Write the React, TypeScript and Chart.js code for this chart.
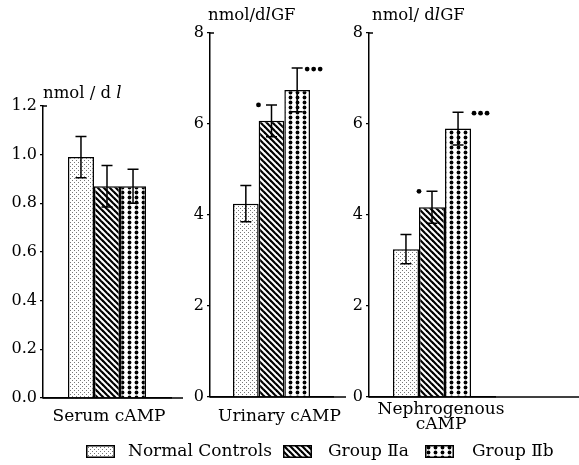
import React, { useEffect, useRef } from 'react';
import { Chart, registerables } from 'chart.js';

Chart.register(...registerables);

// ---------- data ----------
const groups = ['Normal Controls', 'Group Ⅱa', 'Group Ⅱb'];

const serumCategory = 'Serum cAMP';
const serumMeans = [0.99, 0.87, 0.87];
const serumErrors = [0.085, 0.085, 0.07];
const serumSig = [0, 0, 0];
const serumTicks = [0, 0.2, 0.4, 0.6, 0.8, 1.0, 1.2];
const serumUnit = ['nmol / d ', 'l', ''];

const urinaryCategory = 'Urinary cAMP';
const urinaryMeans = [4.25, 6.07, 6.75];
const urinaryErrors = [0.4, 0.35, 0.48];
const urinarySig = [0, 1, 3];
const urinaryTicks = [0, 2, 4, 6, 8];
const urinaryUnit = ['nmol/d', 'l', 'GF'];

const nephroCategory = ['Nephrogenous', 'cAMP'];
const nephroMeans = [3.25, 4.17, 5.9];
const nephroErrors = [0.32, 0.35, 0.36];
const nephroSig = [0, 1, 3];
const nephroTicks = [0, 2, 4, 6, 8];
const nephroUnit = ['nmol/ d', 'l', 'GF'];

// ---------- layout / style ----------
const FONT = '"DejaVu Serif", "Liberation Serif", serif';

const panels = [
  {
    category: serumCategory, means: serumMeans, errors: serumErrors, sig: serumSig,
    ticks: serumTicks, unit: serumUnit, decimals: 1,
    padding: { left: 7, right: 408, top: 106, bottom: 22 }, yWidth: 36,
    catPct: 0.61, baselineTo: 183, labelOffset: 2, labelPadding: 8, labelLineHeight: 1.2,
    sigOffset: 10, unitDx: 0, unitDy: -8,
  },
  {
    category: urinaryCategory, means: urinaryMeans, errors: urinaryErrors, sig: urinarySig,
    ticks: urinaryTicks, unit: urinaryUnit, decimals: 0,
    padding: { left: 180, right: 246, top: 33, bottom: 23 }, yWidth: 30,
    catPct: 0.626, baselineTo: 346, labelOffset: 8, labelPadding: 9, labelLineHeight: 1.2,
    sigOffset: 10, unitDx: -2, unitDy: -13,
  },
  {
    category: nephroCategory, means: nephroMeans, errors: nephroErrors, sig: nephroSig,
    ticks: nephroTicks, unit: nephroUnit, decimals: 0,
    padding: { left: 339, right: 84, top: 33, bottom: 23 }, yWidth: 30,
    catPct: 0.62, baselineTo: 579, labelOffset: 9, labelPadding: 5, labelLineHeight: 0.9,
    sigOffset: 16, unitDx: 3, unitDy: -13,
  },
];

type Kind = 'fine' | 'hatch' | 'dots';
const kinds: Kind[] = ['fine', 'hatch', 'dots'];

function makePattern(kind: Kind): CanvasPattern | string {
  const c = document.createElement('canvas');
  let w = 4, h = 4;
  if (kind === 'hatch') { w = 6; h = 6; }
  if (kind === 'dots') { w = 7; h = 5; }
  c.width = w; c.height = h;
  const ctx = c.getContext('2d');
  if (!ctx) return '#fff';
  ctx.fillStyle = '#fff';
  ctx.fillRect(0, 0, w, h);
  if (kind === 'fine') {
    ctx.fillStyle = '#777';
    ctx.fillRect(0, 0, 1, 1);
    ctx.fillRect(2, 2, 1, 1);
  } else if (kind === 'hatch') {
    ctx.strokeStyle = '#000';
    ctx.lineWidth = 2.2;
    for (const o of [-w, 0, w]) {
      ctx.beginPath();
      ctx.moveTo(o - 1, -1);
      ctx.lineTo(o + w + 1, h + 1);
      ctx.stroke();
    }
  } else {
    ctx.fillStyle = '#000';
    ctx.beginPath();
    ctx.arc(w / 2, h / 2, 1.9, 0, Math.PI * 2);
    ctx.fill();
  }
  return ctx.createPattern(c, 'repeat') || '#fff';
}

function decorPlugin(p: any) {
  return {
    id: 'decor',
    afterDraw(chart: any) {
      const ctx = chart.ctx as CanvasRenderingContext2D;
      const ca = chart.chartArea;
      const ys = chart.scales.y;
      ctx.save();
      ctx.strokeStyle = '#000';
      ctx.lineWidth = 1.5;
      // baseline (redrawn over bars, extended)
      ctx.beginPath();
      ctx.moveTo(ca.left, ca.bottom);
      ctx.lineTo(p.baselineTo, ca.bottom);
      ctx.stroke();
      // inward top tick
      ctx.beginPath();
      ctx.moveTo(ca.left - 0.75, ca.top);
      ctx.lineTo(ca.left + 4, ca.top);
      ctx.stroke();
      // error bars + significance marks
      chart.data.datasets.forEach((_ds: any, i: number) => {
        const el = chart.getDatasetMeta(i).data[0];
        if (!el) return;
        const x = el.x;
        const m = p.means[i];
        const e = p.errors[i];
        const yT = ys.getPixelForValue(m + e);
        const yB = ys.getPixelForValue(m - e);
        ctx.lineWidth = 1.5;
        ctx.beginPath();
        ctx.moveTo(x, yT); ctx.lineTo(x, yB);
        ctx.moveTo(x - 5.5, yT); ctx.lineTo(x + 5.5, yT);
        ctx.moveTo(x - 5.5, yB); ctx.lineTo(x + 5.5, yB);
        ctx.stroke();
        const n = p.sig[i];
        ctx.fillStyle = '#000';
        if (n === 1) {
          ctx.beginPath();
          ctx.arc(x - 13, yT, 2.4, 0, Math.PI * 2);
          ctx.fill();
        } else if (n > 1) {
          for (let k = 0; k < n; k++) {
            ctx.beginPath();
            ctx.arc(x + p.sigOffset + k * 6.5, yT + 1, 2.4, 0, Math.PI * 2);
            ctx.fill();
          }
        }
      });
      // unit label
      ctx.fillStyle = '#000';
      ctx.textAlign = 'left';
      ctx.textBaseline = 'alphabetic';
      let tx = ca.left + p.unitDx;
      const ty = ca.top + p.unitDy;
      p.unit.forEach((s: string, k: number) => {
        ctx.font = (k === 1 ? 'italic ' : '') + '16.5px ' + FONT;
        ctx.fillText(s, tx, ty);
        tx += ctx.measureText(s).width;
      });
      ctx.restore();
    },
  };
}

function makeConfig(p: any, pats: (CanvasPattern | string)[]): any {
  return {
    type: 'bar',
    data: {
      labels: [p.category],
      datasets: groups.map((g, i) => ({
        label: g,
        data: [p.means[i]],
        backgroundColor: pats[i],
        borderColor: '#000',
        borderWidth: 1.5,
        borderSkipped: 'start',
      })),
    },
    options: {
      responsive: false,
      animation: false,
      events: [],
      layout: { padding: p.padding },
      datasets: { bar: { categoryPercentage: p.catPct, barPercentage: 1 } },
      plugins: {
        legend: { display: false },
        tooltip: { enabled: false },
        title: { display: false },
      },
      scales: {
        x: {
          type: 'category',
          grid: { display: false, drawTicks: false, tickLength: 0 },
          border: { display: true, color: '#000', width: 1.5 },
          ticks: {
            color: '#000',
            font: { family: FONT, size: 17, lineHeight: p.labelLineHeight },
            padding: p.labelPadding,
            labelOffset: p.labelOffset,
            maxRotation: 0,
            autoSkip: false,
          },
          afterFit: (s: any) => { s.height = 45; },
        },
        y: {
          min: 0,
          max: p.ticks[p.ticks.length - 1],
          afterBuildTicks: (s: any) => { s.ticks = p.ticks.map((v: number) => ({ value: v })); },
          grid: { drawOnChartArea: false, drawTicks: true, tickLength: 3, color: '#000', lineWidth: 1.2 },
          border: { display: true, color: '#000', width: 1.5 },
          ticks: {
            color: '#000',
            font: { family: FONT, size: 16 },
            padding: 3,
            callback: (v: any) => Number(v).toFixed(p.decimals),
          },
          afterFit: (s: any) => { s.width = p.yWidth; },
        },
      },
    },
    plugins: [decorPlugin(p)],
  };
}

const legendLayout = [
  { box: 86, text: 128 },
  { box: 283, text: 328 },
  { box: 425, text: 472 },
];

export default function App() {
  const c0 = useRef<HTMLCanvasElement>(null);
  const c1 = useRef<HTMLCanvasElement>(null);
  const c2 = useRef<HTMLCanvasElement>(null);
  const l0 = useRef<HTMLCanvasElement>(null);
  const l1 = useRef<HTMLCanvasElement>(null);
  const l2 = useRef<HTMLCanvasElement>(null);

  useEffect(() => {
    const pats = kinds.map(makePattern);
    const charts: Chart[] = [];
    [c0, c1, c2].forEach((r, i) => {
      if (r.current) charts.push(new Chart(r.current, makeConfig(panels[i], pats)));
    });
    [l0, l1, l2].forEach((r, i) => {
      const cv = r.current;
      if (!cv) return;
      const ctx = cv.getContext('2d');
      if (!ctx) return;
      ctx.clearRect(0, 0, cv.width, cv.height);
      ctx.fillStyle = pats[i] as any;
      ctx.fillRect(0, 0, cv.width, cv.height);
      ctx.strokeStyle = '#000';
      ctx.lineWidth = 1.5;
      ctx.strokeRect(0.75, 0.75, cv.width - 1.5, cv.height - 1.5);
    });
    return () => charts.forEach((c) => c.destroy());
  }, []);

  const canvasStyle: React.CSSProperties = { position: 'absolute', left: 0, top: 0, width: 579, height: 465 };

  return (
    <div style={{ position: 'absolute', left: 0, top: 0, width: 579, height: 465, background: '#fff', overflow: 'hidden' }}>
      <canvas ref={c0} width={579} height={465} style={canvasStyle} />
      <canvas ref={c1} width={579} height={465} style={canvasStyle} />
      <canvas ref={c2} width={579} height={465} style={canvasStyle} />
      {groups.map((g, i) => (
        <React.Fragment key={g}>
          <canvas
            ref={[l0, l1, l2][i]}
            width={29}
            height={13}
            style={{ position: 'absolute', left: legendLayout[i].box, top: 445, width: 29, height: 13 }}
          />
          <div
            style={{
              position: 'absolute', left: legendLayout[i].text, top: 442, lineHeight: '17px',
              fontFamily: FONT, fontSize: 17, color: '#000', whiteSpace: 'nowrap',
            }}
          >
            {g}
          </div>
        </React.Fragment>
      ))}
    </div>
  );
}
